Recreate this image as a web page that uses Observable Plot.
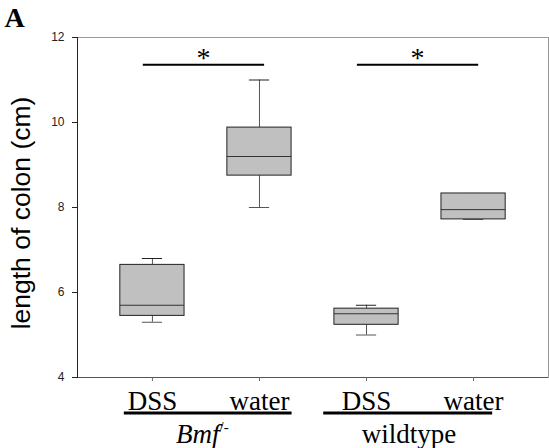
<!DOCTYPE html>
<html><head><meta charset="utf-8">
<script src="https://cdn.jsdelivr.net/npm/d3@7"></script>
<script src="https://cdn.jsdelivr.net/npm/@observablehq/plot@0.6"></script>
<style>body{margin:0;background:#fff} #chart svg{display:block;overflow:visible}</style>
</head><body><div id="chart"></div>
<script>
// ---- data ----
const groups = ["Bmf-/-", "wildtype"];
const treatments = ["DSS", "water"];
const boxGroup = ["Bmf-/-", "Bmf-/-", "wildtype", "wildtype"];
const boxTreatment = ["DSS", "water", "DSS", "water"];
const whiskerLow = [5.3, 8.0, 5.0, 7.72];
const quartile1 = [5.45, 8.75, 5.24, 7.72];
const median = [5.70, 9.20, 5.50, 7.95];
const quartile3 = [6.65, 9.88, 5.62, 8.33];
const whiskerHigh = [6.8, 11.0, 5.7, 8.33];
const yTicks = [4, 6, 8, 10, 12];
const significanceY = 11.36;
const significanceMark = "*";
const yLabel = "length of colon (cm)";
const panelLabel = "A";

const key = (g, t) => g + "|" + t;
const categories = groups.flatMap(g => treatments.map(t => key(g, t)));
const boxes = boxGroup.map((g, i) => ({
  key: key(g, boxTreatment[i]), group: g,
  lo: whiskerLow[i], q1: quartile1[i], med: median[i], q3: quartile3[i], hi: whiskerHigh[i]
}));
const comparisons = groups.map(g => ({group: g, from: key(g, treatments[0]), to: key(g, treatments[1]), y: significanceY, text: significanceMark}));

const serif = "'Liberation Serif', 'Times New Roman', serif";
const sans = "'Liberation Sans', Arial, sans-serif";
const groupDx = [50, 42.5];
const underlineInsets = [[4, -0.5], [-10.7, 13]];

const plot = Plot.plot({
  width: 549, height: 448,
  marginLeft: 77, marginRight: 1, marginTop: 37, marginBottom: 71,
  style: {background: "#fff", color: "#222", overflow: "visible"},
  x: {type: "band", domain: categories, padding: 0.4, round: false, axis: null},
  y: {domain: [4, 12], axis: null},
  marks: [
    Plot.frame({stroke: "#999"}),
    Plot.ruleY([yTicks[0]], {stroke: "#555"}),
    Plot.frame({anchor: "left", stroke: "#222"}),
    Plot.axisY({ticks: yTicks, tickSize: 5, tickPadding: 8, fontSize: 12, fontFamily: sans, label: null, color: "#222"}),
    Plot.axisX({tickSize: 4, tickPadding: 9, fontSize: 27, fontFamily: serif, tickFormat: d => d.split("|")[1], label: null, color: "#000", stroke: "#666"}),
    // whiskers
    Plot.ruleX(boxes, {x: "key", y1: "lo", y2: "q1", stroke: "#555"}),
    Plot.ruleX(boxes, {x: "key", y1: "q3", y2: "hi", stroke: "#555"}),
    Plot.tickY(boxes, {x: "key", y: "lo", stroke: "#555", insetLeft: 22, insetRight: 22}),
    Plot.tickY(boxes, {x: "key", y: "hi", stroke: "#222", insetLeft: 22, insetRight: 22}),
    // boxes
    Plot.barY(boxes, {x: "key", y1: "q1", y2: "q3", fill: "#c0c0c0", stroke: "#222", strokeWidth: 1}),
    Plot.tickY(boxes, {x: "key", y: "med", stroke: "#333"}),
    // significance
    Plot.ruleY(comparisons, {x1: "from", x2: "to", y: "y", stroke: "#000", strokeWidth: 2, insetLeft: 23, insetRight: 27}),
    Plot.text(comparisons, {x: "from", y: "y", text: "text", dx: 51, dy: -7, fontSize: 28, fontFamily: serif, fill: "#000"}),
    // group underlines and labels
    ...groups.map((g, i) => Plot.ruleY(comparisons.filter(c => c.group === g), {x1: "from", x2: "to", y: () => yTicks[0], dy: 35.5, stroke: "#000", strokeWidth: 3, insetLeft: underlineInsets[i][0], insetRight: underlineInsets[i][1]})),
    ...groups.map((g, i) => Plot.text([g], {x: d => key(d, treatments[0]), frameAnchor: "bottom", lineAnchor: "middle", dx: groupDx[i], dy: 57, fontSize: 27, fontFamily: serif, fill: "#000"})),
    // y label & panel label
    Plot.text([yLabel], {frameAnchor: "left", textAnchor: "middle", lineAnchor: "middle", rotate: -90, dx: -56, dy: 5.5, fontSize: 26.5, fontFamily: sans, fill: "#000"}),
    Plot.text([panelLabel], {frameAnchor: "top-left", textAnchor: "start", lineAnchor: "middle", dx: -73, dy: -19.3, fontSize: 28, fontWeight: "bold", fontFamily: serif, fill: "#000"})
  ]
});

// italic gene name with superscript genotype
const ns = "http://www.w3.org/2000/svg";
plot.querySelectorAll("text").forEach(t => {
  if (t.textContent === "Bmf-/-") {
    t.textContent = "";
    const a = document.createElementNS(ns, "tspan");
    a.setAttribute("font-style", "italic");
    a.textContent = "Bmf";
    const b = document.createElementNS(ns, "tspan");
    b.setAttribute("font-size", "15");
    b.setAttribute("dy", "-11");
    b.textContent = "/-";
    t.append(a, b);
  }
});
document.getElementById("chart").append(plot);
</script>
</body></html>
